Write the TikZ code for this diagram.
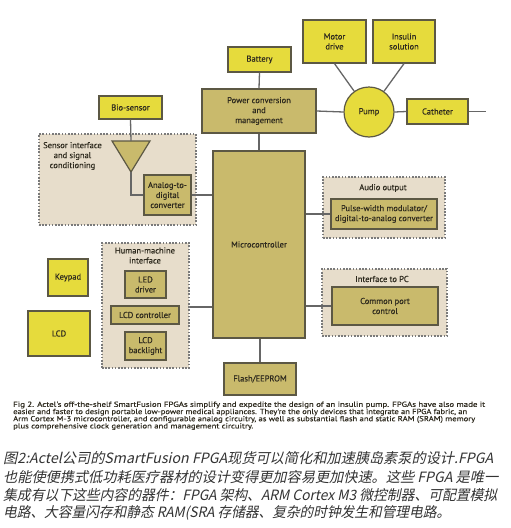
\documentclass[tikz,border=0pt]{standalone}
\usepackage{fontspec}
\setmainfont{PT Sans}
\newfontfamily\dfont[FakeBold=0.4]{PT Sans}
\newfontfamily\capfont[FakeBold=0.3]{PT Sans}
\newfontfamily\cjk[FakeSlant=0.22]{Noto Sans CJK SC}
\definecolor{yel}{HTML}{E6DB3C}
\definecolor{kha}{HTML}{C9BA6C}
\definecolor{beig}{HTML}{E7DDCB}
\definecolor{bord}{HTML}{5C5844}
\definecolor{wire}{HTML}{666666}
\definecolor{grpline}{HTML}{7A7A7A}
\definecolor{txt}{HTML}{2E2A1E}
\newcommand{\capw}[2]{\resizebox{#1pt}{\height}{#2}}
\begin{document}
\begin{tikzpicture}[x=1pt,y=-1pt,
  lbl/.style={font=\dfont\fontsize{8.5}{10}\selectfont, text=txt, align=center},
  bx/.style={lbl, draw=bord, line width=1.2pt, inner sep=0pt},
  ybox/.style={bx, fill=yel},
  kbox/.style={bx, fill=kha},
  grp/.style={fill=beig, draw=grpline, line width=1.3pt, dash pattern=on 1.6pt off 1.6pt, inner sep=0pt},
  wirel/.style={draw=wire, line width=1.3pt},
  capline/.style={anchor=west, inner sep=0pt, font=\capfont\fontsize{7.3}{7.3}\selectfont, text=txt},
  cjkl/.style={anchor=west, inner sep=0pt, font=\cjk\fontsize{14.2}{14.2}\selectfont, text=black!80}]
\useasboundingbox[fill=white] (0,0) rectangle (511,528);
% groups
\node[grp, minimum width=157pt, minimum height=91pt] (gsens) at (117.5,179.5) {};
\node[grp, minimum width=87pt, minimum height=125pt] (ghmi) at (145.5,305.5) {};
\node[grp, minimum width=122pt, minimum height=61pt] (gaud) at (384,207.5) {};
\node[grp, minimum width=125pt, minimum height=67pt] (gpc) at (384.5,302.5) {};
\node[lbl] (lsens) at (72.5,156) {Sensor interface\\and signal\\conditioning};
\node[lbl] (lhmi) at (145,255.5) {Human-machine\\interface};
\node[lbl] (laud) at (383,188) {Audio output};
\node[lbl] (lpc) at (382,279) {Interface to PC};
% boxes
\node[ybox, minimum width=63pt, minimum height=25pt] (bat) at (259.5,59.5) {Battery};
\node[kbox, minimum width=114pt, minimum height=44pt] (pwr) at (259,111) {Power conversion\\and\\management};
\node[ybox, minimum width=63pt, minimum height=43pt] (mot) at (334.5,41.5) {Motor\\drive};
\node[ybox, minimum width=62pt, minimum height=43pt] (ins) at (404,41.5) {Insulin\\solution};
\node[ybox, circle, minimum size=50pt] (pump) at (369,112) {Pump};
\node[ybox, minimum width=61pt, minimum height=25pt] (cat) at (437.5,111.5) {Catheter};
\coordinate (catend) at (486,111.5);
\node[kbox, minimum width=92pt, minimum height=187pt] (mcu) at (259,244.5) {Microcontroller};
\node[ybox, minimum width=63pt, minimum height=23pt] (bio) at (130.5,107.5) {Bio-sensor};
\node[kbox, minimum width=47pt, minimum height=40pt] (adc) at (167.5,195) {Analog-to-\\digital\\converter};
\coordinate (tl) at (112,141);
\coordinate (tr) at (150,141);
\coordinate (tip) at (131,172);
\coordinate (ttop) at (131,141);
\draw[fill=kha, draw=bord, line width=1.2pt, line join=miter] (tl) -- (tr) -- (tip) -- cycle;
\node[kbox, minimum width=41pt, minimum height=27pt] (led) at (145.5,284.5) {LED\\driver};
\node[kbox, minimum width=68pt, minimum height=18pt] (lcdc) at (145,315) {LCD controller};
\node[kbox, minimum width=41pt, minimum height=28pt] (lcdb) at (145.5,346) {LCD\\backlight};
\node[ybox, minimum width=40pt, minimum height=37pt] (key) at (68,277.5) {Keypad};
\node[ybox, minimum width=62pt, minimum height=45pt] (lcd) at (59,333.5) {LCD};
\node[kbox, minimum width=72pt, minimum height=32pt] (flash) at (260,379) {Flash/EEPROM};
\node[kbox, minimum width=106pt, minimum height=30pt] (pwm) at (384,214) {Pulse-width modulator/\\digital-to-analog converter};
\node[kbox, minimum width=106pt, minimum height=38pt] (cpc) at (385,306) {Common port\\control};
% wires
\path[wirel] (bat.south) -- (pwr.north);
\path[wirel] (pwr.south) -- (pwr.south |- mcu.north);
\path[wirel] (pwr.east) -- (pump.west);
\path[wirel] (mot.south) -- (pump);
\path[wirel] (ins.south) -- (pump);
\path[wirel] (pump.east) -- (cat.west);
\path[wirel] (cat.east) -- (catend);
\path[wirel] (bio.south) -- (ttop);
\path[wirel] (tip) |- (adc.west);
\path[wirel] (adc.east) -- (mcu.west |- adc.east);
\coordinate (hmiw) at (ghmi.east |- 0,307);
\path[wirel] (hmiw) -- (mcu.west |- hmiw);
\path[wirel] (mcu.east |- pwm.west) -- (pwm.west);
\path[wirel] (mcu.east |- cpc.west) -- (cpc.west);
\path[wirel] (mcu.south -| flash.north) -- (flash.north);
% captions
\node[capline] (c1) at (13,405) {\capw{472}{Fig 2. Actel's off-the-shelf SmartFusion FPGAs simplify and expedite the design of an insulin pump. FPGAs have also made it}};
\node[capline] (c2) at (13,412.2) {\capw{454}{easier and faster to design portable low-power medical appliances. They're the only devices that integrate an FPGA fabric, an}};
\node[capline] (c3) at (13,419.4) {\capw{462}{Arm Cortex M-3 microcontroller, and configurable analog circuitry, as well as substantial flash and static RAM (SRAM) memory}};
\node[capline] (c4) at (13,426.6) {\capw{240}{plus comprehensive clock generation and management circuitry.}};
\node[cjkl] (z1) at (3,458) {\capw{490}{图2:Actel公司的SmartFusion FPGA现货可以简化和加速胰岛素泵的设计.FPGA}};
\node[cjkl] (z2) at (3,477) {\capw{495}{也能使便携式低功耗医疗器材的设计变得更加容易更加快速。这些 FPGA 是唯一}};
\node[cjkl] (z3) at (3,495) {\capw{494}{集成有以下这些内容的器件：FPGA 架构、ARM Cortex M3 微控制器、可配置模拟}};
\node[cjkl] (z4) at (3,513) {\capw{447}{电路、大容量闪存和静态 RAM(SRA 存储器、复杂的时钟发生和管理电路。}};
\end{tikzpicture}
\end{document}
